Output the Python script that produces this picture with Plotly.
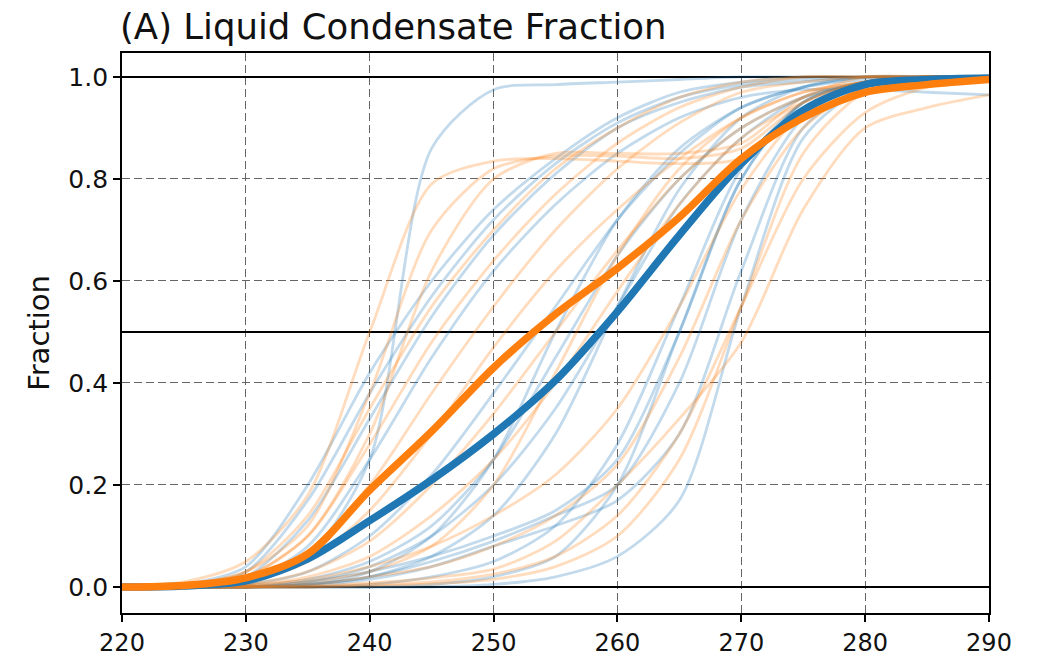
import plotly.graph_objects as go

# Temperature grid (K)
temps = [220, 225, 230, 235, 240, 245, 250, 255, 260, 265, 270, 275, 280, 285, 290]

# Ensemble members – blue set
blue_01 = [0, 0.005, 0.03, 0.17, 0.38, 0.57, 0.72, 0.83, 0.91, 0.96, 0.985, 0.995, 1, 1, 1]
blue_02 = [0, 0.003, 0.02, 0.13, 0.33, 0.53, 0.69, 0.81, 0.90, 0.95, 0.98, 0.99, 1, 1, 1]
blue_03 = [0, 0.005, 0.04, 0.20, 0.42, 0.60, 0.74, 0.84, 0.92, 0.97, 0.99, 1, 1, 1, 1]
blue_04 = [0, 0, 0.005, 0.06, 0.25, 0.86, 0.975, 0.985, 0.99, 0.995, 1, 1, 1, 1, 1]
blue_05 = [0, 0, 0.005, 0.03, 0.10, 0.22, 0.38, 0.55, 0.72, 0.85, 0.94, 0.98, 0.995, 1, 1]
blue_06 = [0, 0, 0.002, 0.015, 0.05, 0.12, 0.25, 0.45, 0.65, 0.80, 0.90, 0.96, 0.99, 1, 1]
blue_07 = [0, 0, 0, 0.01, 0.04, 0.10, 0.20, 0.35, 0.55, 0.75, 0.88, 0.96, 0.99, 1, 1]
blue_08 = [0, 0, 0, 0.005, 0.03, 0.10, 0.25, 0.50, 0.72, 0.86, 0.94, 0.98, 1, 1, 1]
blue_09 = [0, 0, 0, 0.005, 0.02, 0.06, 0.14, 0.30, 0.55, 0.78, 0.92, 0.98, 1, 1, 1]
blue_10 = [0, 0, 0, 0, 0.005, 0.02, 0.05, 0.12, 0.28, 0.55, 0.82, 0.95, 0.99, 1, 1]
blue_11 = [0, 0, 0, 0, 0, 0.005, 0.02, 0.06, 0.20, 0.50, 0.80, 0.95, 0.99, 1, 1]
blue_12 = [0, 0, 0, 0, 0, 0, 0.005, 0.02, 0.06, 0.17, 0.55, 0.88, 0.98, 1, 1]
blue_13 = [0, 0, 0, 0.01, 0.03, 0.06, 0.10, 0.15, 0.25, 0.50, 0.80, 0.95, 0.99, 1, 1]
blue_14 = [0, 0, 0, 0.005, 0.02, 0.05, 0.09, 0.14, 0.20, 0.40, 0.72, 0.92, 0.99, 1, 1]
blue_15 = [0, 0, 0.01, 0.08, 0.25, 0.45, 0.62, 0.75, 0.85, 0.92, 0.96, 0.975, 0.975, 0.97, 0.965]
blue_16 = [0, 0, 0, 0.003, 0.015, 0.04, 0.08, 0.12, 0.17, 0.30, 0.62, 0.90, 0.98, 1, 1]

# Ensemble members – orange set
orange_01 = [0, 0.01, 0.05, 0.18, 0.50, 0.79, 0.835, 0.84, 0.835, 0.83, 0.84, 0.93, 0.99, 1, 1]
orange_02 = [0, 0.005, 0.03, 0.12, 0.38, 0.70, 0.82, 0.845, 0.845, 0.84, 0.86, 0.95, 0.99, 1, 1]
orange_03 = [0, 0.003, 0.02, 0.10, 0.30, 0.62, 0.80, 0.85, 0.85, 0.85, 0.87, 0.96, 1, 1, 1]
orange_04 = [0, 0.005, 0.03, 0.14, 0.35, 0.55, 0.70, 0.82, 0.90, 0.96, 0.99, 1, 1, 1, 1]
orange_05 = [0, 0.003, 0.02, 0.10, 0.28, 0.48, 0.64, 0.77, 0.87, 0.94, 0.98, 1, 1, 1, 1]
orange_06 = [0, 0.002, 0.015, 0.07, 0.20, 0.38, 0.55, 0.70, 0.82, 0.91, 0.97, 0.99, 1, 1, 1]
orange_07 = [0, 0.002, 0.01, 0.05, 0.15, 0.30, 0.47, 0.62, 0.74, 0.84, 0.92, 0.97, 0.99, 1, 1]
orange_08 = [0, 0, 0.005, 0.03, 0.09, 0.20, 0.34, 0.50, 0.66, 0.80, 0.90, 0.96, 0.99, 1, 1]
orange_09 = [0, 0, 0.003, 0.02, 0.06, 0.14, 0.25, 0.40, 0.58, 0.75, 0.88, 0.95, 0.99, 1, 1]
orange_10 = [0, 0, 0, 0.01, 0.03, 0.08, 0.20, 0.42, 0.65, 0.82, 0.92, 0.97, 0.99, 1, 1]
orange_11 = [0, 0, 0.003, 0.015, 0.04, 0.08, 0.14, 0.22, 0.35, 0.55, 0.78, 0.93, 0.99, 1, 1]
orange_12 = [0, 0, 0, 0.005, 0.02, 0.04, 0.08, 0.14, 0.24, 0.45, 0.72, 0.90, 0.98, 1, 1]
orange_13 = [0, 0, 0, 0.002, 0.008, 0.018, 0.035, 0.09, 0.20, 0.33, 0.48, 0.74, 0.90, 0.94, 0.965]
orange_14 = [0, 0, 0, 0, 0.005, 0.01, 0.025, 0.06, 0.14, 0.30, 0.55, 0.80, 0.93, 0.98, 1]
orange_15 = [0, 0, 0, 0, 0.002, 0.006, 0.015, 0.04, 0.10, 0.25, 0.55, 0.85, 0.97, 0.99, 1]

# Ensemble means
blue_mean = [0, 0.002, 0.012, 0.055, 0.13, 0.21, 0.30, 0.405, 0.54, 0.69, 0.83, 0.935, 0.985, 0.995, 0.998]
orange_mean = [0, 0.003, 0.018, 0.065, 0.19, 0.305, 0.43, 0.535, 0.625, 0.725, 0.84, 0.92, 0.97, 0.985, 0.995]

blue_runs = [blue_01, blue_02, blue_03, blue_04, blue_05, blue_06, blue_07, blue_08,
             blue_09, blue_10, blue_11, blue_12, blue_13, blue_14, blue_15, blue_16]
orange_runs = [orange_01, orange_02, orange_03, orange_04, orange_05, orange_06, orange_07,
               orange_08, orange_09, orange_10, orange_11, orange_12, orange_13, orange_14, orange_15]

ref_levels = [0.0, 0.5, 1.0]
x_range = [220, 290]
y_range = [-0.051, 1.047]
x_ticks = [220, 230, 240, 250, 260, 270, 280, 290]
y_ticks = [0.0, 0.2, 0.4, 0.6, 0.8, 1.0]

BLUE = "#1f77b4"
ORANGE = "#ff7f0e"
BLUE_T = "rgba(31,119,180,0.27)"
ORANGE_T = "rgba(255,127,14,0.27)"

fig = go.Figure()

# Reference levels (drawn first so they sit above the grid but under the curves)
for lvl in ref_levels:
    fig.add_trace(go.Scatter(x=x_range, y=[lvl, lvl], mode="lines",
                             line=dict(color="black", width=2),
                             showlegend=False, hoverinfo="skip", cliponaxis=True))

for run in blue_runs:
    fig.add_trace(go.Scatter(x=temps, y=run, mode="lines",
                             line=dict(color=BLUE_T, width=2.8, shape="spline", smoothing=0.8),
                             showlegend=False, hoverinfo="skip"))
for run in orange_runs:
    fig.add_trace(go.Scatter(x=temps, y=run, mode="lines",
                             line=dict(color=ORANGE_T, width=2.8, shape="spline", smoothing=0.8),
                             showlegend=False, hoverinfo="skip"))

fig.add_trace(go.Scatter(x=temps, y=blue_mean, mode="lines",
                         line=dict(color=BLUE, width=7.5, shape="spline", smoothing=0.9),
                         showlegend=False))
fig.add_trace(go.Scatter(x=temps, y=orange_mean, mode="lines",
                         line=dict(color=ORANGE, width=7.5, shape="spline", smoothing=0.9),
                         showlegend=False))

FONT = "DejaVu Sans"

fig.update_layout(
    width=1043, height=656,
    margin=dict(l=122, r=54, t=53, b=43, autoexpand=False),
    paper_bgcolor="white", plot_bgcolor="white",
    font=dict(family=FONT, color="#111111"),
    title=dict(text="(A) Liquid Condensate Fraction",
               font=dict(family=FONT, size=35.5, color="#111111"),
               xref="container", yref="container",
               x=120 / 1043, xanchor="left",
               y=1 - 27 / 656, yanchor="middle"),
    showlegend=False,
)

fig.update_xaxes(
    range=x_range, tickmode="array", tickvals=x_ticks,
    ticktext=[str(v) for v in x_ticks],
    tickfont=dict(family=FONT, size=24, color="#111111"),
    ticks="outside", ticklen=7, tickwidth=1.6, tickcolor="black",
    showline=True, linecolor="black", linewidth=1.8, mirror=True,
    showgrid=True, gridcolor="#666666", gridwidth=1.3, griddash="8px,4px",
    zeroline=False, automargin=False,
)
fig.update_yaxes(
    range=y_range, tickmode="array", tickvals=y_ticks,
    ticktext=[f"{v:.1f}" for v in y_ticks],
    tickfont=dict(family=FONT, size=25, color="#111111"),
    ticks="outside", ticklen=7, tickwidth=1.6, tickcolor="black",
    showline=True, linecolor="black", linewidth=1.8, mirror=True,
    showgrid=True, gridcolor="#666666", gridwidth=1.3, griddash="8px,4px",
    zeroline=False, automargin=False,
    title=dict(text="Fraction", font=dict(family=FONT, size=29, color="#111111"), standoff=10),
)

fig.write_html("out.html")
